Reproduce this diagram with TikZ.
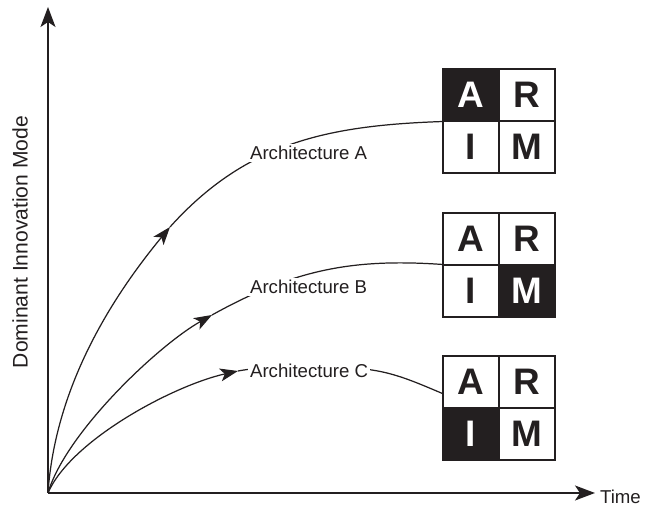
\documentclass[tikz,border=0pt]{standalone}
\usepackage{fontspec}
\setmainfont{Liberation Sans}
\usetikzlibrary{arrows.meta,calc}
\definecolor{ink}{RGB}{35,31,32}

\begin{document}
\begin{tikzpicture}[
  cell/.style={draw=ink,line width=0.6pt,minimum width=1.12cm,minimum height=1.04cm,inner sep=0pt,font=\fontsize{21}{23}\selectfont\bfseries,text=ink},
  dark/.style={cell,fill=ink,text=white},
  arch/.style={fill=white,inner sep=1pt,anchor=west,font=\fontsize{10.6}{12}\selectfont,text=ink},
  curve/.style={draw=ink,line width=0.7pt},
  tip/.style={-{Stealth[length=0.36cm,width=0.26cm,inset=0.09cm]}},
  axis/.style={draw=ink,line width=0.85pt,-{Stealth[length=0.4cm,width=0.3cm,inset=0.1cm]}}
]
\useasboundingbox (-0.96,-0.34) rectangle (11.94,9.86);

% Axes
\coordinate (O) at (0,0);
\coordinate (ytop) at (0,9.72);
\coordinate (xend) at (10.94,0);
\draw[axis] (O) -- (ytop);
\draw[axis] (O) -- (xend);
\node[anchor=west,inner sep=1pt,font=\fontsize{10.6}{12}\selectfont,text=ink] (time) at (11.0,-0.08) {Time};
\node[rotate=90,font=\fontsize{12}{14}\selectfont,text=ink] (ylab) at (-0.56,5.02) {Dominant Innovation Mode};

% Mode grid, architecture A
\node[dark] (a1) at (8.46,7.96) {A};
\node[cell] (r1) at (9.58,7.96) {R};
\node[cell] (i1) at (8.46,6.92) {I};
\node[cell] (m1) at (9.58,6.92) {M};

% Mode grid, architecture B
\node[cell] (a2) at (8.46,5.08) {A};
\node[cell] (r2) at (9.58,5.08) {R};
\node[cell] (i2) at (8.46,4.04) {I};
\node[dark] (m2) at (9.58,4.04) {M};

% Mode grid, architecture C
\node[cell] (a3) at (8.46,2.22) {A};
\node[cell] (r3) at (9.58,2.22) {R};
\node[dark] (i3) at (8.46,1.18) {I};
\node[cell] (m3) at (9.58,1.18) {M};

% Growth curves
\coordinate (tA) at (2.44,5.32);
\coordinate (tB) at (3.28,3.56);
\coordinate (tC) at (3.8,2.44);
\coordinate (mC) at (5.9,2.5);
\draw[curve,tip] (O) .. controls (0.15,2.2) and (1.35,4.0) .. (tA);
\draw[curve] (tA) to[out=48,in=182] (a1.south west);
\draw[curve,tip] (O) .. controls (0.35,1.2) and (2.2,2.95) .. (tB);
\draw[curve] (tB) to[out=29,in=176] (i2.north west);
\draw[curve,tip] (O) .. controls (0.45,1.05) and (2.5,2.15) .. (tC);
\draw[curve] (tC) to[out=10,in=180] (mC) to[out=0,in=157] ($(a3.south west)+(0,0.3)$);

% Labels
\node[arch] (la) at (4.0,6.8) {Architecture A};
\node[arch] (lb) at (4.0,4.12) {Architecture B};
\node[arch] (lc) at (4.0,2.44) {Architecture C};

\end{tikzpicture}
\end{document}
